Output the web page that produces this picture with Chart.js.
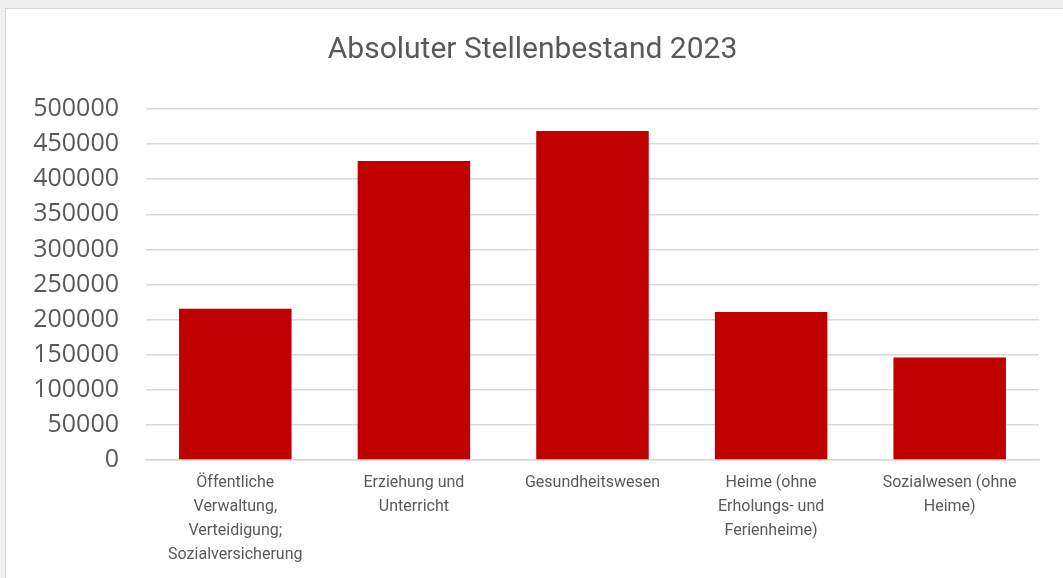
<!DOCTYPE html>
<html><head><meta charset="utf-8">
<script src="https://cdn.jsdelivr.net/npm/chart.js@4/dist/chart.umd.min.js"></script>
<style>
html,body{margin:0;padding:0;background:#f0f0f0;width:1063px;height:578px;overflow:hidden;}
#box{position:absolute;left:5px;top:8px;width:1058px;height:570px;background:#fff;border-left:1px solid #d4d4d4;border-top:1px solid #d4d4d4;box-sizing:border-box;}
canvas{display:block;}
</style></head><body>
<div id="box"><canvas id="c" width="1057" height="569"></canvas></div>
<script>
const title = "Absoluter Stellenbestand 2023";
const categories = [
  ["Öffentliche","Verwaltung,","Verteidigung;","Sozialversicherung"],
  ["Erziehung und","Unterricht"],
  ["Gesundheitswesen"],
  ["Heime (ohne","Erholungs- und","Ferienheime)"],
  ["Sozialwesen (ohne","Heime)"]
];
const values = [215500, 426000, 468700, 210700, 146000];
const yMax = 500000;
const yStep = 50000;

new Chart(document.getElementById('c'), {
  type: 'bar',
  data: { labels: categories, datasets: [{ data: values, backgroundColor: '#c00000', borderWidth: 0, barPercentage: 0.63, categoryPercentage: 1 }] },
  options: {
    responsive: false, animation: false,
    layout: { padding: { left: 20, right: 24, bottom: 0, top: 0 } },
    plugins: {
      legend: { display: false }, tooltip: { enabled: false },
      title: { display: true, text: title, color: '#595959', font: { family: 'Roboto', size: 30, weight: 'normal' }, padding: { top: 23, bottom: 41 } }
    },
    scales: {
      x: {
        grid: { display: false, drawTicks: false },
        border: { display: true, color: '#d9d9d9', width: 1.5 },
        ticks: { color: '#595959', font: { family: 'Roboto', size: 16 , lineHeight: 1.5}, padding: 11, maxRotation: 0, autoSkip: false }
      },
      y: {
        min: 0, max: yMax,
        afterFit: s => { s.width = 120; },
        grid: { color: '#d9d9d9', lineWidth: 1.5, drawTicks: false },
        border: { display: false },
        ticks: { stepSize: yStep, color: '#595959', font: { family: 'Open Sans', size: 25 }, padding: 27, callback: v => String(v) }
      }
    }
  }
});
</script>
</body></html>
